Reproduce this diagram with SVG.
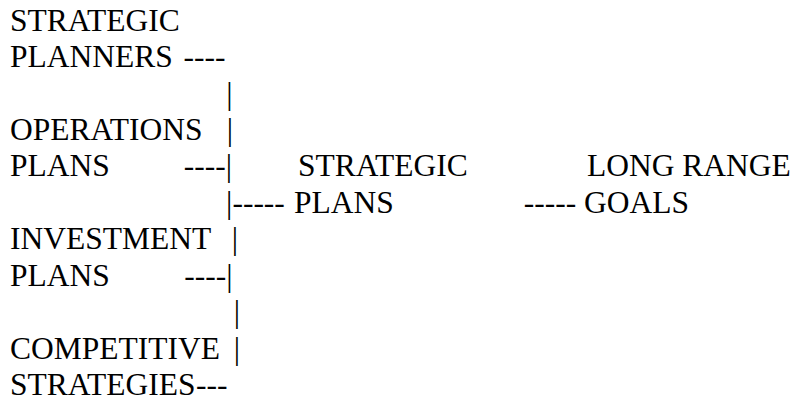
<svg xmlns="http://www.w3.org/2000/svg" width="795" height="402" viewBox="0 0 795 402">
<style>
.bar{text-anchor:middle}
</style>
<rect width="795" height="402" fill="#fff"/>
<g id="strategic-planners">
<text x="10" y="30.7" font-family="'Liberation Serif'" font-size="31.5">STRATEGIC</text>
<text x="10" y="67.1" font-family="'Liberation Serif'" font-size="31.5">PLANNERS</text>
</g>
<g id="operations-plans">
<text x="10" y="140" font-family="'Liberation Serif'" font-size="31.5">OPERATIONS</text>
<text x="10" y="176.4" font-family="'Liberation Serif'" font-size="31.5">PLANS</text>
</g>
<g id="investment-plans">
<text x="10" y="249.3" font-family="'Liberation Serif'" font-size="31.5">INVESTMENT</text>
<text x="10" y="285.7" font-family="'Liberation Serif'" font-size="31.5">PLANS</text>
</g>
<g id="competitive-strategies">
<text x="10" y="358.6" font-family="'Liberation Serif'" font-size="31.5">COMPETITIVE</text>
<text x="10" y="395" font-family="'Liberation Serif'" font-size="31.5">STRATEGIES</text>
</g>
<g id="strategic-plans">
<text x="298" y="176.4" font-family="'Liberation Serif'" font-size="31.5">STRATEGIC</text>
<text x="294" y="212.8" font-family="'Liberation Serif'" font-size="31.5">PLANS</text>
</g>
<g id="long-range-goals">
<text x="587" y="176.4" font-family="'Liberation Serif'" font-size="31.5">LONG RANGE</text>
<text x="584" y="212.8" font-family="'Liberation Serif'" font-size="31.5">GOALS</text>
</g>
<g id="connectors">
<text x="183.5" y="67.1" font-family="'Liberation Serif'" font-size="31.5">----</text>
<text class="bar" x="229.5" y="103.6" font-family="'Liberation Serif'" font-size="31.5">|</text>
<text class="bar" x="230" y="140" font-family="'Liberation Serif'" font-size="31.5">|</text>
<text x="183.8" y="176.4" font-family="'Liberation Serif'" font-size="31.5">----|</text>
<text x="226.1" y="212.8" font-family="'Liberation Serif'" font-size="31.5">|-----</text>
<text x="523.7" y="212.8" font-family="'Liberation Serif'" font-size="31.5">-----</text>
<text class="bar" x="235" y="249.3" font-family="'Liberation Serif'" font-size="31.5">|</text>
<text x="184.3" y="285.7" font-family="'Liberation Serif'" font-size="31.5">----|</text>
<text class="bar" x="237" y="322.1" font-family="'Liberation Serif'" font-size="31.5">|</text>
<text class="bar" x="237" y="358.6" font-family="'Liberation Serif'" font-size="31.5">|</text>
<text x="196" y="395" font-family="'Liberation Serif'" font-size="31.5">---</text>
</g>
</svg>
